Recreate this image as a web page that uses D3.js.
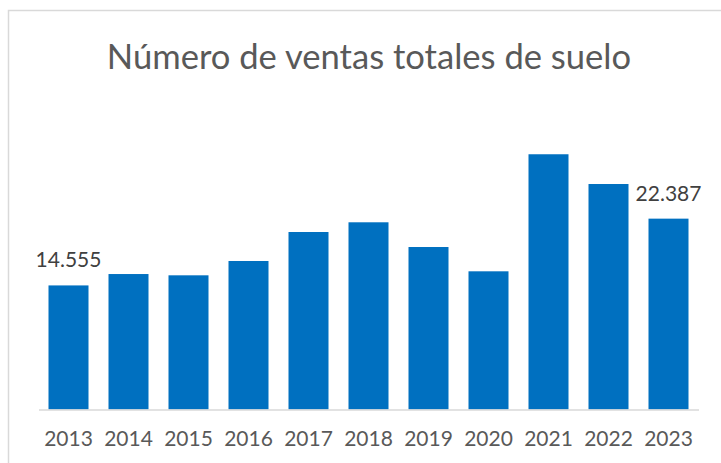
<!DOCTYPE html>
<html>
<head>
<meta charset="utf-8">
<script src="https://cdn.jsdelivr.net/npm/d3@7/dist/d3.min.js"></script>
<style>
  html, body { margin: 0; padding: 0; background: #ffffff; }
  svg { display: block; }
</style>
</head>
<body>
<svg id="chart" width="721" height="463"></svg>
<script>
const title = "Número de ventas totales de suelo";
const years = ["2013","2014","2015","2016","2017","2018","2019","2020","2021","2022","2023"];
const ventas = [14555, 15890, 15740, 17420, 20820, 21960, 19060, 16210, 29940, 26450, 22387];
const labelledYears = ["2013", "2023"];

const svg = d3.select("#chart");
const W = 721, H = 463;
const font = "Lato, 'Open Sans', sans-serif";
const textColor = "#595959";

// chart border
svg.append("rect")
  .attr("x", 8.5).attr("y", 10.5)
  .attr("width", W + 20).attr("height", H + 20)
  .attr("fill", "#ffffff")
  .attr("stroke", "#d9d9d9").attr("stroke-width", 1.5);

const x = d3.scaleBand()
  .domain(years)
  .range([38.5, 698.5])
  .paddingInner(1/3)
  .paddingOuter(1/6);

const y = d3.scaleLinear()
  .domain([0, 35000])
  .range([409.5, 409.5 - 35000 / 117.3]);

// title
svg.append("text")
  .attr("x", 369).attr("y", 69)
  .attr("text-anchor", "middle")
  .attr("font-family", font)
  .attr("font-weight", 400)
  .attr("font-size", 34.6)
  .attr("fill", textColor)
  .text(title);

// bars
svg.append("g").selectAll("rect")
  .data(years)
  .join("rect")
  .attr("x", d => x(d))
  .attr("width", x.bandwidth())
  .attr("y", (d, i) => y(ventas[i]))
  .attr("height", (d, i) => y(0) - y(ventas[i]))
  .attr("fill", "#0070c0");

// axis
const axis = svg.append("g")
  .attr("transform", `translate(0,${y(0)})`)
  .call(d3.axisBottom(x).tickSize(0).tickSizeOuter(0).tickPadding(22));
axis.select(".domain").attr("stroke", "#d9d9d9").attr("stroke-width", 1.5);
axis.selectAll("text")
  .attr("font-family", font)
  .attr("font-weight", 400)
  .attr("font-size", 21)
  .attr("fill", textColor);

// data labels
svg.append("g").selectAll("text")
  .data(years.map((d, i) => ({year: d, v: ventas[i]})).filter(d => labelledYears.includes(d.year)))
  .join("text")
  .attr("x", d => x(d.year) + x.bandwidth() / 2)
  .attr("y", d => y(d.v) - 18)
  .attr("text-anchor", "middle")
  .attr("font-family", font)
  .attr("font-weight", 400)
  .attr("font-size", 21)
  .attr("fill", "#404040")
  .text(d => d3.format(",")(d.v).replace(/,/g, "."));
</script>
</body>
</html>
